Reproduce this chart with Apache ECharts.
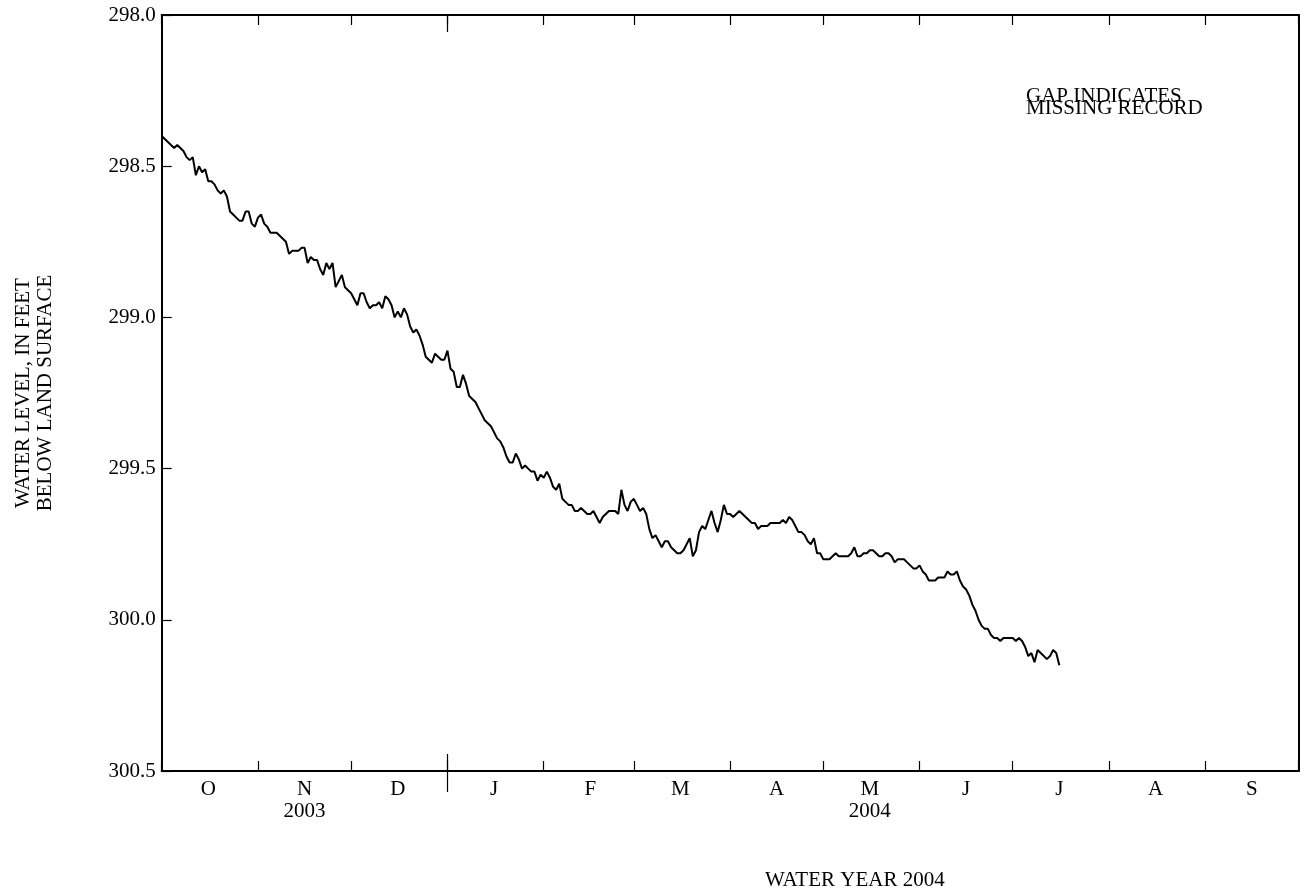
<!DOCTYPE html>
<html>
<head>
<meta charset="utf-8">
<script src="https://cdn.jsdelivr.net/npm/echarts@6/dist/echarts.min.js"></script>
<style>
html,body{margin:0;padding:0;background:#fff;}
#chart{width:1306px;height:896px;}
</style>
</head>
<body>
<div id="chart"></div>
<script>
// ---- data ----
const monthLetters = ['O','N','D','J','F','M','A','M','J','J','A','S'];
const monthDays = [31,30,31,31,29,31,30,31,30,31,31,30];
const yearUnderMonth = {1:'2003', 7:'2004'};
const yearBoundaryMonth = 3; // January 1, 2004
const yMin = 298.0, yMax = 300.5, yStep = 0.5;
const xTitle = 'WATER YEAR 2004';
const yTitle = 'WATER LEVEL, IN FEET\nBELOW LAND SURFACE';
const noteLines = ['GAP INDICATES', 'MISSING RECORD'];
// daily water level starting 2003-10-01
const waterLevel = [
298.40,298.41,298.42,298.43,298.44,298.43,298.44,298.45,298.47,298.48,
298.47,298.53,298.50,298.52,298.51,298.55,298.55,298.56,298.58,298.59,
298.58,298.60,298.65,298.66,298.67,298.68,298.68,298.65,298.65,298.69,
298.70,298.67,298.66,298.69,298.70,298.72,298.72,298.72,298.73,298.74,
298.75,298.79,298.78,298.78,298.78,298.77,298.77,298.82,298.80,298.81,
298.81,298.84,298.86,298.82,298.84,298.82,298.90,298.88,298.86,298.90,
298.91,298.92,298.94,298.96,298.92,298.92,298.95,298.97,298.96,298.96,
298.95,298.97,298.93,298.94,298.96,299.00,298.98,299.00,298.97,298.99,
299.03,299.05,299.04,299.06,299.09,299.13,299.14,299.15,299.12,299.13,
299.14,299.14,299.11,299.17,299.18,299.23,299.23,299.19,299.22,299.26,
299.27,299.28,299.30,299.32,299.34,299.35,299.36,299.38,299.40,299.41,
299.43,299.46,299.48,299.48,299.45,299.47,299.50,299.49,299.50,299.51,
299.51,299.54,299.52,299.53,299.51,299.53,299.56,299.57,299.55,299.60,
299.61,299.62,299.62,299.64,299.64,299.63,299.64,299.65,299.65,299.64,
299.66,299.68,299.66,299.65,299.64,299.64,299.64,299.65,299.57,299.62,
299.64,299.61,299.60,299.62,299.64,299.63,299.65,299.70,299.73,299.72,
299.74,299.76,299.74,299.74,299.76,299.77,299.78,299.78,299.77,299.75,
299.73,299.79,299.77,299.71,299.69,299.70,299.67,299.64,299.68,299.71,
299.67,299.62,299.65,299.65,299.66,299.65,299.64,299.65,299.66,299.67,
299.68,299.68,299.70,299.69,299.69,299.69,299.68,299.68,299.68,299.68,
299.67,299.68,299.66,299.67,299.69,299.71,299.71,299.72,299.74,299.75,
299.73,299.78,299.78,299.80,299.80,299.80,299.79,299.78,299.79,299.79,
299.79,299.79,299.78,299.76,299.79,299.79,299.78,299.78,299.77,299.77,
299.78,299.79,299.79,299.78,299.78,299.79,299.81,299.80,299.80,299.80,
299.81,299.82,299.83,299.83,299.82,299.84,299.85,299.87,299.87,299.87,
299.86,299.86,299.86,299.84,299.85,299.85,299.84,299.87,299.89,299.90,
299.92,299.95,299.97,300.00,300.02,300.03,300.03,300.05,300.06,300.06,
300.07,300.06,300.06,300.06,300.06,300.07,300.06,300.07,300.09,300.12,
300.11,300.14,300.10,300.11,300.12,300.13,300.12,300.10,300.11,300.15
];

// ---- build day categories ----
const days = [];
const monthStart = [];
const labelAt = {};
let idx = 0;
monthDays.forEach((n, m) => {
  monthStart.push(idx);
  labelAt[idx + 15] = m;
  for (let d = 1; d <= n; d++) { days.push(m + '-' + d); idx++; }
});
days.push('end');
monthStart.push(idx);
const startSet = new Set(monthStart);
const janIdx = monthStart[yearBoundaryMonth];

const FONT = "'Liberation Serif', 'DejaVu Serif', serif";
const black = '#000';
const FS = 21;

function catAxis(extra) {
  return Object.assign({
    type: 'category',
    data: days,
    boundaryGap: false,
    axisLine: {show: false},
    axisTick: {show: false},
    axisLabel: {show: false},
    splitLine: {show: false}
  }, extra);
}

const chart = echarts.init(document.getElementById('chart'), null, {renderer: 'canvas'});
chart.setOption({
  animation: false,
  backgroundColor: '#fff',
  grid: {left: 161.7, top: 15, right: 7.5, bottom: 125, containLabel: false, outerBoundsMode: 'none'},
  xAxis: [
    catAxis({
      position: 'bottom',
      axisLine: {show: true, onZero: false, lineStyle: {color: black, width: 2}},
      axisTick: {show: true, inside: true, length: 10, lineStyle: {color: black, width: 1.2},
        interval: (i) => startSet.has(i)},
      axisLabel: {show: true, margin: 7, color: black, fontFamily: FONT, fontSize: FS, lineHeight: 22,
        interval: (i) => labelAt[i] !== undefined,
        formatter: (v, i) => {
          const m = labelAt[i];
          if (m === undefined) return '';
          return yearUnderMonth[m] ? monthLetters[m] + '\n' + yearUnderMonth[m] : monthLetters[m];
        }}
    }),
    catAxis({
      position: 'top',
      axisLine: {show: true, onZero: false, lineStyle: {color: black, width: 2}},
      axisTick: {show: true, inside: true, length: 10, lineStyle: {color: black, width: 1.2},
        interval: (i) => startSet.has(i)}
    }),
    catAxis({
      position: 'bottom',
      axisTick: {show: true, inside: true, length: 17, lineStyle: {color: black, width: 1.2},
        interval: (i) => i === janIdx}
    }),
    catAxis({
      position: 'bottom',
      axisTick: {show: true, inside: false, length: 21, lineStyle: {color: black, width: 1.2},
        interval: (i) => i === janIdx}
    }),
    catAxis({
      position: 'top',
      axisTick: {show: true, inside: true, length: 17, lineStyle: {color: black, width: 1.2},
        interval: (i) => i === janIdx}
    })
  ],
  yAxis: [
    {
      type: 'value', position: 'left', inverse: true,
      min: yMin, max: yMax, interval: yStep,
      axisLine: {show: true, onZero: false, lineStyle: {color: black, width: 2}},
      axisTick: {show: true, inside: true, length: 10, lineStyle: {color: black, width: 1.2}},
      axisLabel: {color: black, fontFamily: FONT, fontSize: FS, margin: 6,
        formatter: (v) => v.toFixed(1)},
      splitLine: {show: false},
      name: yTitle, nameLocation: 'middle', nameGap: 105, nameRotate: 90,
      nameTextStyle: {color: black, fontFamily: FONT, fontSize: FS, lineHeight: 22}
    },
    {
      type: 'value', position: 'right', inverse: true,
      min: yMin, max: yMax, interval: yStep,
      axisLine: {show: true, onZero: false, lineStyle: {color: black, width: 2}},
      axisTick: {show: false}, axisLabel: {show: false}, splitLine: {show: false}
    }
  ],
  series: [{
    type: 'line',
    xAxisIndex: 0, yAxisIndex: 0,
    data: waterLevel,
    showSymbol: false,
    symbol: 'none',
    lineStyle: {color: black, width: 2},
    silent: true
  }],
  graphic: [
    {type: 'text', left: 1026, top: 86, style: {text: noteLines[0], fill: black, font: FS + 'px ' + FONT}},
    {type: 'text', left: 1026, top: 97.5, style: {text: noteLines[1], fill: black, font: FS + 'px ' + FONT}},
    {type: 'text', left: 765, top: 869.5, style: {text: xTitle, fill: black, font: FS + 'px ' + FONT}}
  ]
});
</script>
</body>
</html>
